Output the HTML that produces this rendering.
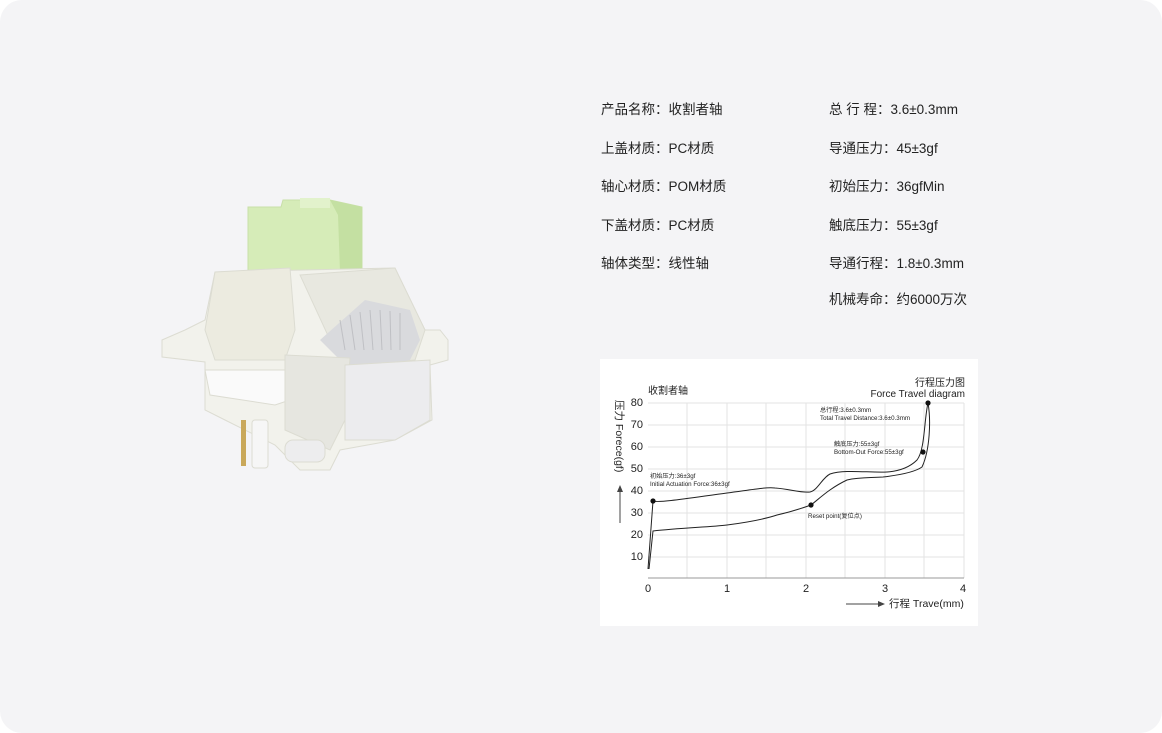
<!DOCTYPE html>
<html><head><meta charset="utf-8"><style>
html,body{margin:0;padding:0;background:#fff;}
body{width:1162px;height:733px;position:relative;overflow:hidden;font-family:"Liberation Sans","Noto Sans CJK SC",sans-serif;}
.panel{position:absolute;left:0;top:0;width:1162px;height:733px;background:#f4f4f6;border-radius:22px;}
.t{position:absolute;font-size:13.5px;color:#222;white-space:nowrap;}
</style></head><body>
<div class="panel"></div>
<div class="t" style="left:601px;top:98px">产品名称：收割者轴</div>
<div class="t" style="left:601px;top:137px">上盖材质：PC材质</div>
<div class="t" style="left:601px;top:175px">轴心材质：POM材质</div>
<div class="t" style="left:601px;top:214px">下盖材质：PC材质</div>
<div class="t" style="left:601px;top:252px">轴体类型：线性轴</div>
<div class="t" style="left:829px;top:98px">总 行 程：3.6±0.3mm</div>
<div class="t" style="left:829px;top:137px">导通压力：45±3gf</div>
<div class="t" style="left:829px;top:175px">初始压力：36gfMin</div>
<div class="t" style="left:829px;top:214px">触底压力：55±3gf</div>
<div class="t" style="left:829px;top:252px">导通行程：1.8±0.3mm</div>
<div class="t" style="left:829px;top:288px">机械寿命：约6000万次</div>

<svg style="position:absolute;left:0;top:0" width="1162" height="733">
<g stroke="#dcdcd2" stroke-width="1">
<polygon points="248,207 281,207 283,200 330,200 362,207 362,272 248,272" fill="#d6ecb8" stroke="#c8dfa8"/>
<polygon points="330,200 362,207 362,272 340,272 338,215" fill="#c4e0a2" stroke="none"/>
<rect x="300" y="198" width="30" height="10" fill="#e2f2cc" stroke="none"/>
<polygon points="215,272 395,268 425,330 440,330 448,340 448,360 430,365 432,420 395,440 340,450 330,470 300,470 275,445 225,420 205,410 205,362 162,357 162,340 185,330 205,320" fill="#f2f2ec"/>
<polygon points="215,272 290,268 295,330 285,360 215,360 205,330" fill="#ecebe0"/>
<polygon points="300,275 395,268 425,330 415,360 360,365 330,340" fill="#e8e8e0"/>
<polygon points="320,340 365,300 410,310 420,340 410,360 350,370" fill="#d9dadd" stroke="none"/>
<g stroke="#bfc0c4">
<line x1="340" y1="320" x2="345" y2="350"/><line x1="350" y1="315" x2="355" y2="350"/><line x1="360" y1="312" x2="364" y2="350"/><line x1="370" y1="310" x2="373" y2="350"/><line x1="380" y1="310" x2="382" y2="350"/><line x1="390" y1="311" x2="391" y2="350"/><line x1="400" y1="313" x2="400" y2="350"/>
</g>
<polygon points="205,370 285,370 290,400 275,405 210,395" fill="#fafafa"/>
<polygon points="285,355 350,358 345,420 330,450 285,430" fill="#e6e6e0"/>
<polygon points="345,365 430,360 430,420 395,440 345,440" fill="#ececee"/>
<rect x="241" y="420" width="5" height="46" fill="#c9a85a" stroke="none"/>
<rect x="252" y="420" width="16" height="48" rx="3" fill="#f6f6f6"/>
<rect x="285" y="440" width="40" height="22" rx="8" fill="#ededee"/>
</g>
<rect x="600" y="359" width="378" height="267" fill="#fff"/>
<g stroke="#e3e3e3" stroke-width="1">
<line x1="648" y1="403" x2="964" y2="403"/><line x1="648" y1="425" x2="964" y2="425"/><line x1="648" y1="447" x2="964" y2="447"/><line x1="648" y1="469" x2="964" y2="469"/><line x1="648" y1="491" x2="964" y2="491"/><line x1="648" y1="513" x2="964" y2="513"/><line x1="648" y1="535" x2="964" y2="535"/><line x1="648" y1="557" x2="964" y2="557"/>
<line x1="687" y1="403" x2="687" y2="578"/><line x1="727" y1="403" x2="727" y2="578"/><line x1="766" y1="403" x2="766" y2="578"/><line x1="806" y1="403" x2="806" y2="578"/><line x1="845" y1="403" x2="845" y2="578"/><line x1="885" y1="403" x2="885" y2="578"/><line x1="924" y1="403" x2="924" y2="578"/><line x1="964" y1="403" x2="964" y2="578"/>
</g>
<line x1="648" y1="578" x2="964" y2="578" stroke="#999"/>
<g fill="none" stroke="#222" stroke-width="1">
<path d="M648,569 L653,501 C660,503 690,498 727,493 C750,490 765,487 775,488 C790,489 800,493 810,492 C818,490 822,478 830,474 C845,469 870,473 887,472 C900,471 910,467 917,460 C925,450 924,420 928,403"/>
<path d="M649,569 L653,531 C680,528 710,527 727,525 C750,522 765,519 777,515 C795,511 805,507 811,505 C820,498 830,488 847,480 C860,477 870,478 883,477 C900,475 915,472 922,467 C930,450 931,420 928,403"/>
</g>
<g fill="#111"><circle cx="653" cy="501" r="2.6"/><circle cx="811" cy="505" r="2.6"/><circle cx="923" cy="452" r="2.6"/><circle cx="928" cy="403" r="2.6"/></g>
<g font-family="Liberation Sans, Noto Sans CJK SC, sans-serif" fill="#222">
<text x="648" y="394" font-size="10">收割者轴</text>
<text x="965" y="386" font-size="10" text-anchor="end">行程压力图</text>
<text x="965" y="397" font-size="10" text-anchor="end">Force Travel diagram</text>
<g font-size="11" text-anchor="end"><text x="643" y="406">80</text><text x="643" y="428">70</text><text x="643" y="450">60</text><text x="643" y="472">50</text><text x="643" y="494">40</text><text x="643" y="516">30</text><text x="643" y="538">20</text><text x="643" y="560">10</text></g>
<g font-size="11" text-anchor="middle"><text x="648" y="592">0</text><text x="727" y="592">1</text><text x="806" y="592">2</text><text x="885" y="592">3</text><text x="963" y="592">4</text></g>
<text transform="translate(616,400) rotate(90)" font-size="10.5">压力 Forece(gf)</text>
<text x="889" y="607" font-size="10.5">行程 Trave(mm)</text>
<g font-size="6.2"><text x="650" y="478">初始压力:36±3gf</text><text x="650" y="486">Initial Actuation Force:36±3gf</text>
<text x="808" y="518">Reset point(复位点)</text>
<text x="834" y="446">触底压力:55±3gf</text><text x="834" y="454">Bottom-Out Force:55±3gf</text>
<text x="820" y="412">总行程:3.6±0.3mm</text><text x="820" y="420">Total Travel Distance:3.6±0.3mm</text></g>
</g>
<line x1="620" y1="523" x2="620" y2="490" stroke="#444"/><polygon points="620,485 617,492 623,492" fill="#444"/>
<line x1="846" y1="604" x2="880" y2="604" stroke="#444"/><polygon points="885,604 878,601 878,607" fill="#444"/>
</svg>
</body></html>
